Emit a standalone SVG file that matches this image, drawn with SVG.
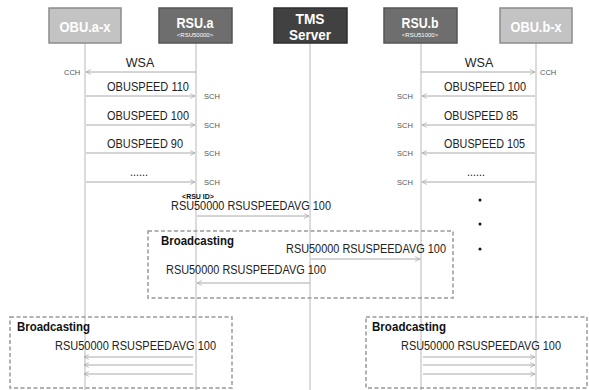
<svg xmlns="http://www.w3.org/2000/svg" width="589" height="390" viewBox="0 0 589 390">
<style>
.box{stroke-width:1.5}
.obu{fill:#c3c3c3;stroke:#8c8c8c}
.rsu{fill:#6e6e6e;stroke:#555}
.tms{fill:#414141;stroke:#2e2e2e}
.title{font-family:"Liberation Sans",Arial,sans-serif;font-weight:bold;fill:#fff;font-size:15px;text-anchor:middle}
.sub{font-family:"Liberation Sans",Arial,sans-serif;fill:#fff;font-size:6px;text-anchor:middle}
.life{stroke:#b8b8b8;stroke-width:1;fill:none}
.msg{stroke:#aaa;stroke-width:1;fill:none;marker-end:url(#ah)}
.lbl{font-family:"Liberation Sans",Arial,sans-serif;font-size:12.5px;fill:#222}
.ch{font-family:"Liberation Sans",Arial,sans-serif;font-size:7.5px;fill:#555}
.bc{font-family:"Liberation Sans",Arial,sans-serif;font-size:12.5px;font-weight:bold;fill:#111}
.dash{fill:none;stroke:#999;stroke-width:1.5;stroke-dasharray:4 2.5}
.dot{fill:#111}
</style>
<defs>
<marker id="ah" viewBox="0 0 10 10" refX="9" refY="5" markerWidth="6" markerHeight="6" markerUnits="userSpaceOnUse" orient="auto">
<path d="M1,1 L9,5 L1,9" fill="none" stroke="#aaa" stroke-width="1.3"/>
</marker>
</defs>

<g id="lifelines">
<line class="life" x1="85" y1="43" x2="85" y2="390"/>
<line class="life" x1="196" y1="43" x2="196" y2="390"/>
<line class="life" x1="310" y1="43" x2="310" y2="390"/>
<line class="life" x1="421" y1="43" x2="421" y2="390"/>
<line class="life" x1="536" y1="43" x2="536" y2="390"/>
</g>

<g id="obu-a">
<rect class="box obu" x="49" y="8" width="72" height="35"/>
<text class="title" x="85" y="32" textLength="51" lengthAdjust="spacingAndGlyphs">OBU.a-x</text>
</g>
<g id="rsu-a">
<rect class="box rsu" x="159" y="8" width="73" height="35"/>
<text class="title" x="195" y="28" textLength="37" lengthAdjust="spacingAndGlyphs">RSU.a</text>
<text class="sub" x="195" y="37">&lt;RSU50000&gt;</text>
</g>
<g id="tms">
<rect class="box tms" x="274" y="8" width="73" height="35"/>
<text class="title" x="310" y="24" textLength="29" lengthAdjust="spacingAndGlyphs">TMS</text>
<text class="title" x="310" y="40" textLength="42" lengthAdjust="spacingAndGlyphs">Server</text>
</g>
<g id="rsu-b">
<rect class="box rsu" x="384" y="8" width="73" height="35"/>
<text class="title" x="420" y="28" textLength="37" lengthAdjust="spacingAndGlyphs">RSU.b</text>
<text class="sub" x="420" y="37">&lt;RSU51000&gt;</text>
</g>
<g id="obu-b">
<rect class="box obu" x="500" y="8" width="72" height="35"/>
<text class="title" x="536" y="32" textLength="51" lengthAdjust="spacingAndGlyphs">OBU.b-x</text>
</g>

<g id="broadcast-boxes">
<rect class="dash" x="148" y="231" width="305" height="67"/>
<rect class="dash" x="10" y="317" width="222" height="71"/>
<rect class="dash" x="366" y="317" width="221" height="71"/>
</g>

<g id="connectors">
<line class="msg" x1="196" y1="72" x2="86" y2="72"/>
<line class="msg" x1="86" y1="96" x2="195" y2="96"/>
<line class="msg" x1="86" y1="125" x2="195" y2="125"/>
<line class="msg" x1="86" y1="153" x2="195" y2="153"/>
<line class="msg" x1="86" y1="182" x2="195" y2="182"/>
<line class="msg" x1="421" y1="72" x2="535" y2="72"/>
<line class="msg" x1="535" y1="96" x2="422" y2="96"/>
<line class="msg" x1="535" y1="125" x2="422" y2="125"/>
<line class="msg" x1="535" y1="153" x2="422" y2="153"/>
<line class="msg" x1="535" y1="182" x2="422" y2="182"/>
<line class="msg" x1="197" y1="216" x2="309" y2="216"/>
<line class="msg" x1="311" y1="259" x2="420" y2="259"/>
<line class="msg" x1="310" y1="283" x2="197" y2="283"/>
<line class="msg" x1="193" y1="357" x2="84" y2="357"/>
<line class="msg" x1="193" y1="365" x2="84" y2="365"/>
<line class="msg" x1="193" y1="374" x2="84" y2="374"/>
<line class="msg" x1="423" y1="357" x2="535" y2="357"/>
<line class="msg" x1="423" y1="365" x2="535" y2="365"/>
<line class="msg" x1="423" y1="374" x2="535" y2="374"/>
</g>

<g id="labels">
<text class="lbl" x="140" y="67" text-anchor="middle">WSA</text>
<text class="lbl" x="107" y="91" textLength="82" lengthAdjust="spacingAndGlyphs">OBUSPEED 110</text>
<text class="lbl" x="107" y="120" textLength="82" lengthAdjust="spacingAndGlyphs">OBUSPEED 100</text>
<text class="lbl" x="107" y="148" textLength="76" lengthAdjust="spacingAndGlyphs">OBUSPEED 90</text>
<text class="lbl" x="130" y="176" textLength="18" lengthAdjust="spacingAndGlyphs">......</text>
<text class="lbl" x="479" y="67" text-anchor="middle">WSA</text>
<text class="lbl" x="444" y="91" textLength="82" lengthAdjust="spacingAndGlyphs">OBUSPEED 100</text>
<text class="lbl" x="444" y="120" textLength="74" lengthAdjust="spacingAndGlyphs">OBUSPEED 85</text>
<text class="lbl" x="444" y="148" textLength="81" lengthAdjust="spacingAndGlyphs">OBUSPEED 105</text>
<text class="lbl" x="467" y="176" textLength="18" lengthAdjust="spacingAndGlyphs">......</text>

<text class="ch" x="64" y="75">CCH</text>
<text class="ch" x="204" y="99">SCH</text>
<text class="ch" x="204" y="128">SCH</text>
<text class="ch" x="204" y="156">SCH</text>
<text class="ch" x="204" y="185">SCH</text>
<text class="ch" x="540" y="75">CCH</text>
<text class="ch" x="397" y="99">SCH</text>
<text class="ch" x="397" y="128">SCH</text>
<text class="ch" x="397" y="156">SCH</text>
<text class="ch" x="397" y="185">SCH</text>

<circle class="dot" cx="480" cy="200" r="1.5"/>
<circle class="dot" cx="480" cy="224" r="1.5"/>
<circle class="dot" cx="480" cy="249" r="1.5"/>

<text x="198" y="199" text-anchor="middle" style="font-family:'Liberation Sans',Arial,sans-serif;font-size:7px;font-weight:bold;fill:#111">&lt;RSU ID&gt;</text>
<text class="lbl" x="171" y="210" textLength="160" lengthAdjust="spacingAndGlyphs">RSU50000 RSUSPEEDAVG 100</text>

<text class="bc" x="161" y="245" textLength="73" lengthAdjust="spacingAndGlyphs">Broadcasting</text>
<text class="lbl" x="286" y="253" textLength="160" lengthAdjust="spacingAndGlyphs">RSU50000 RSUSPEEDAVG 100</text>
<text class="lbl" x="166" y="274" textLength="160" lengthAdjust="spacingAndGlyphs">RSU50000 RSUSPEEDAVG 100</text>

<text class="bc" x="17" y="331" textLength="73" lengthAdjust="spacingAndGlyphs">Broadcasting</text>
<text class="lbl" x="55" y="350" textLength="161" lengthAdjust="spacingAndGlyphs">RSU50000 RSUSPEEDAVG 100</text>

<text class="bc" x="372" y="331" textLength="74" lengthAdjust="spacingAndGlyphs">Broadcasting</text>
<text class="lbl" x="401" y="350" textLength="160" lengthAdjust="spacingAndGlyphs">RSU50000 RSUSPEEDAVG 100</text>
</g>
</svg>
